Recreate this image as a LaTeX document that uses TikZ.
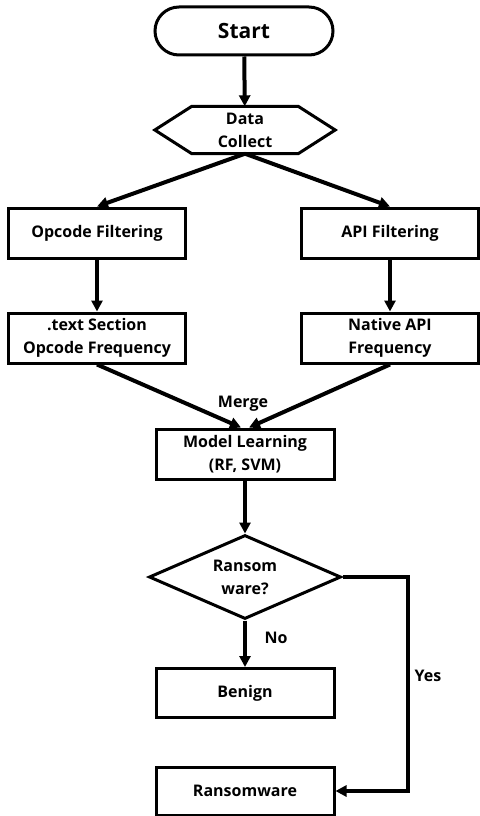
\documentclass[tikz,border=0pt]{standalone}
\usepackage{fontspec}
\setmainfont{Open Sans}
\usetikzlibrary{shapes.geometric,shapes.misc,arrows.meta}
\begin{document}
\begin{tikzpicture}[x=1pt,y=-1pt,
  box/.style={draw, line width=3pt, minimum width=177pt, minimum height=50pt, inner sep=0pt, align=center, font=\bfseries\fontsize{16}{23}\selectfont},
  arr/.style={line width=4pt, -{Triangle[length=11pt,width=11pt]}},
  lbl/.style={font=\bfseries\fontsize{16}{18}\selectfont}]
\useasboundingbox (0,0) rectangle (479,816);
\node[box, rounded rectangle, minimum width=178pt, minimum height=48pt, font=\bfseries\fontsize{21}{24}\selectfont] (start) at (244,31) {Start};
\node[inner sep=0pt, minimum width=180pt, minimum height=47pt, align=center, font=\bfseries\fontsize{16}{23}\selectfont] (dc) at (245,130) {Data\\Collect};
\draw[line width=3pt, line join=miter] (dc.west) -- ([xshift=37pt]dc.north west) -- ([xshift=-37pt]dc.north east) -- (dc.east) -- ([xshift=-37pt]dc.south east) -- ([xshift=37pt]dc.south west) -- cycle;
\node[box] (of) at (97,233) {Opcode Filtering};
\node[box] (af) at (390,233) {API Filtering};
\node[box] (tf) at (97,338) {.text Section\\Opcode Frequency};
\node[box] (nf) at (390,338) {Native API\\Frequency};
\node[box, minimum width=178pt] (ml) at (245,454) {Model Learning\\(RF, SVM)};
\node[box, diamond, aspect=2.29, minimum width=192pt, minimum height=84pt] (dia) at (245,577) {Ransom\\ware?};
\node[box, minimum width=178pt, minimum height=49pt] (bn) at (245,693) {Benign};
\node[box, minimum width=178pt, minimum height=48pt] (rw) at (245,791) {Ransomware};
\draw[arr] (start) -- (dc);
\draw[arr] (dc.south) -- (of.north);
\draw[arr] (dc.south) -- (af.north);
\draw[arr] (of) -- (tf);
\draw[arr] (af) -- (nf);
\draw[arr] (tf.south) -- ([xshift=-4pt]ml.north);
\draw[arr] (nf.south) -- ([xshift=4pt]ml.north);
\node[lbl] (merge) at (243,404) {Merge};
\draw[arr] (ml) -- (dia);
\draw[arr] (dia) -- (bn);
\node[lbl] (no) at (276,638) {No};
\draw[arr, line join=miter] (dia.east) -- ++(65,0) |- (rw.east);
\node[lbl] (yes) at (428,676) {Yes};
\end{tikzpicture}
\end{document}
